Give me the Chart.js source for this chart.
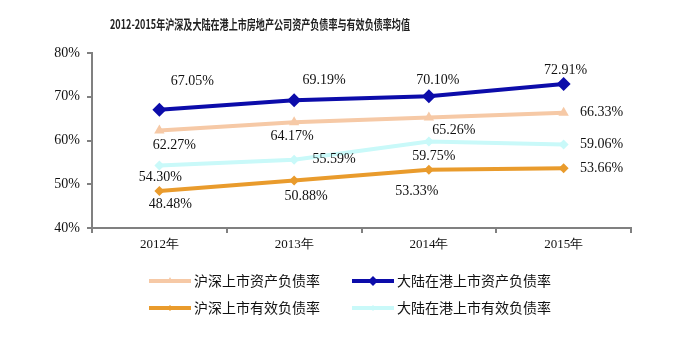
<!DOCTYPE html>
<html>
<head>
<meta charset="utf-8">
<script src="https://cdn.jsdelivr.net/npm/chart.js@4"></script>
<style>
  html, body { margin: 0; padding: 0; background: #fff; }
  #wrap { width: 690px; height: 338px; position: relative; }
</style>
</head>
<body>
<div id="wrap"><canvas id="c" width="690" height="338"></canvas></div>
<script>
// chart data
const titleText = '2012-2015年沪深及大陆在港上市房地产公司资产负债率与有效负债率均值';
const years = ['2012年', '2013年', '2014年', '2015年'];
const shAssetRatio = [62.27, 64.17, 65.26, 66.33];   // 沪深上市资产负债率
const hkAssetRatio = [67.05, 69.19, 70.10, 72.91];   // 大陆在港上市资产负债率
const shEffRatio = [48.48, 50.88, 53.33, 53.66];     // 沪深上市有效负债率
const hkEffRatio = [54.30, 55.59, 59.75, 59.06];     // 大陆在港上市有效负债率
const yTicks = [40, 50, 60, 70, 80];

// where each value label sits relative to its point (px)
const labelOffsets = {
  hkAsset: [[33, -28], [30, -20], [9, -16], [2, -14]],
  shAsset: [[15, 15], [-2, 14], [25, 13], [38, 0]],
  hkEff: [[1, 12], [40, 0], [5, 15], [38, 0]],
  shEff: [[11, 13], [12, 16], [-12, 22], [38, 0]]
};

const serif = '"Liberation Serif", "Times New Roman", serif';
const cjk = '"Noto Sans CJK SC", sans-serif';

function series(key, label, data, color, style, radius) {
  return {
    key: key,
    label: label,
    data: data,
    borderColor: color,
    backgroundColor: color,
    borderWidth: 4,
    pointStyle: style,
    pointRadius: radius,
    pointHoverRadius: radius,
    pointBorderWidth: 0,
    tension: 0
  };
}

const datasets = [
  series('shAsset', '沪深上市资产负债率', shAssetRatio, '#f6c9a6', 'triangle', 6),
  series('hkAsset', '大陆在港上市资产负债率', hkAssetRatio, '#0c0caa', 'rectRot', 7),
  series('shEff', '沪深上市有效负债率', shEffRatio, '#e99b2c', 'rectRot', 5),
  series('hkEff', '大陆在港上市有效负债率', hkEffRatio, '#c9f9f9', 'rectRot', 5)
];

// value labels
const valueLabels = {
  id: 'valueLabels',
  afterDatasetsDraw(chart) {
    const ctx = chart.ctx;
    ctx.save();
    ctx.font = '14px ' + serif;
    ctx.fillStyle = '#111';
    ctx.textAlign = 'center';
    ctx.textBaseline = 'middle';
    chart.data.datasets.forEach((ds, i) => {
      const meta = chart.getDatasetMeta(i);
      meta.data.forEach((pt, j) => {
        const off = labelOffsets[ds.key][j];
        ctx.fillText(ds.data[j].toFixed(2) + '%', pt.x + off[0], pt.y + off[1]);
      });
    });
    ctx.restore();
  }
};

// title + 2x2 legend drawn on the canvas
const chrome = {
  id: 'chrome',
  afterDraw(chart) {
    const ctx = chart.ctx;
    ctx.save();
    // the original title is a narrow face, so squeeze it to ~300px
    ctx.fillStyle = '#222';
    ctx.font = 'bold 13px ' + cjk;
    ctx.textAlign = 'center';
    ctx.textBaseline = 'middle';
    const w = ctx.measureText(titleText).width;
    const sx = Math.min(1, 300 / w);
    ctx.save();
    ctx.translate(260, 24);
    ctx.scale(sx, 1);
    ctx.fillText(titleText, 0, 0);
    ctx.restore();

    const cols = [149, 352];
    const rows = [281, 308];
    ctx.font = '14px ' + cjk;
    ctx.textAlign = 'left';
    chart.data.datasets.forEach((ds, i) => {
      const x = cols[i % 2];
      const y = rows[Math.floor(i / 2)];
      ctx.strokeStyle = ds.borderColor;
      ctx.lineWidth = 4;
      ctx.beginPath();
      ctx.moveTo(x, y);
      ctx.lineTo(x + 42, y);
      ctx.stroke();
      ctx.fillStyle = ds.borderColor;
      Chart.helpers.drawPoint(ctx, { pointStyle: ds.pointStyle, radius: ds.pointRadius - 2, borderWidth: 0 }, x + 21, y);
      ctx.fillStyle = '#111';
      ctx.fillText(ds.label, x + 45, y);
    });
    ctx.restore();
  }
};

new Chart(document.getElementById('c'), {
  type: 'line',
  data: { labels: years, datasets: datasets },
  plugins: [valueLabels, chrome],
  options: {
    responsive: false,
    animation: false,
    layout: { padding: { top: 53, right: 59, bottom: 80, left: 0 } },
    plugins: {
      legend: { display: false },
      title: { display: false },
      tooltip: { enabled: false }
    },
    scales: {
      x: {
        offset: true,
        grid: {
          offset: true,
          drawOnChartArea: false,
          drawTicks: true,
          tickLength: 5,
          color: '#808080',
          lineWidth: 2
        },
        border: { display: true, color: '#808080', width: 2 },
        ticks: {
          color: '#111',
          font: { family: serif, size: 13 },
          padding: 4
        },
        afterFit(scale) { scale.height = 30; }
      },
      y: {
        min: 40,
        max: 80,
        afterBuildTicks(scale) { scale.ticks = yTicks.map(v => ({ value: v })); },
        grid: {
          drawOnChartArea: false,
          drawTicks: true,
          tickLength: 5,
          color: '#808080',
          lineWidth: 2
        },
        border: { display: true, color: '#808080', width: 2 },
        ticks: {
          color: '#111',
          font: { family: serif, size: 14 },
          padding: 7,
          callback: v => v + '%'
        },
        afterFit(scale) { scale.width = 92; }
      }
    }
  }
});
</script>
</body>
</html>
